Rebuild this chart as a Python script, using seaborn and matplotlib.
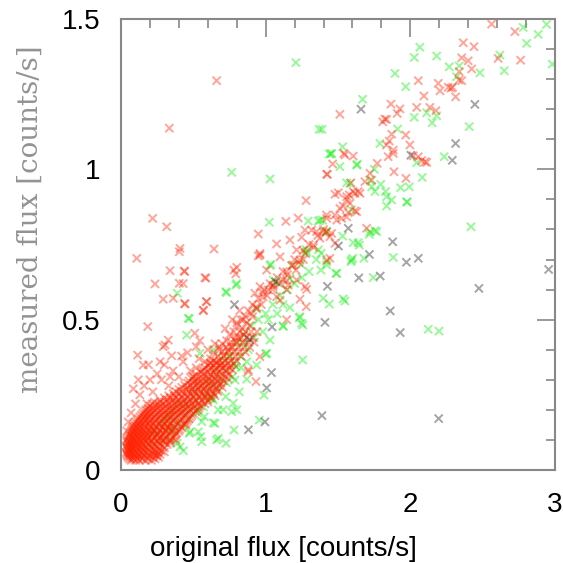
import matplotlib
matplotlib.use("Agg")
import matplotlib.pyplot as plt
import seaborn as sns
import pandas as pd
from matplotlib.ticker import MultipleLocator

sns.set_theme(style="white")
plt.rcParams['font.family'] = ['Liberation Sans', 'DejaVu Sans']

# ---------------- data ----------------
x_ticks = [0, 1, 2, 3]
x_tick_labels = ["0", "1", "2", "3"]
y_ticks = [0, 0.5, 1, 1.5]
y_tick_labels = ["0", "0.5", "1", "1.5"]

gray_pts = [
    (0.784, 0.550), (0.888, 0.434), (1.044, 0.476), (1.040, 0.324), (1.007, 0.273),
    (0.995, 0.160), (0.881, 0.134), (1.069, 0.626), (1.427, 0.611), (1.503, 0.745),
    (1.571, 0.804), (1.659, 1.200), (1.717, 0.717), (1.644, 0.639), (1.792, 0.645),
    (1.878, 0.759), (1.973, 0.691), (2.055, 0.704), (2.004, 1.047), (2.290, 1.030),
    (2.313, 1.086), (2.446, 1.216), (2.474, 0.604), (2.956, 0.667), (1.861, 0.529),
    (1.410, 0.491), (1.930, 0.457), (1.389, 0.181), (2.196, 0.171),
]

green_pts = [
    (1.209, 1.355), (1.370, 1.133), (0.765, 0.990), (1.030, 0.968), (1.025, 0.824),
    (1.294, 0.828), (1.364, 0.828), (1.394, 0.831), (1.440, 1.051),
    (2.066, 1.406), (2.027, 1.372), (2.182, 1.377), (1.894, 1.319), (1.968, 1.275),
    (1.670, 1.233), (2.269, 1.341), (2.338, 1.344), (2.320, 1.308), (2.481, 1.321),
    (2.619, 1.380), (2.649, 1.328), (2.780, 1.472), (2.804, 1.419), (2.884, 1.449),
    (2.942, 1.482), (2.981, 1.350),
    (2.027, 1.173), (2.151, 1.155), (2.113, 1.188), (2.182, 1.178), (2.407, 1.142),
    (1.912, 1.134), (1.790, 1.086), (1.532, 1.075), (1.451, 1.051), (1.513, 1.009),
    (1.633, 1.017), (1.389, 1.133), (2.044, 1.022), (2.234, 1.042), (2.082, 0.973),
    (1.751, 1.000), (1.733, 0.942), (1.795, 0.950), (1.829, 0.926), (1.871, 0.898),
    (1.933, 0.939), (1.992, 0.942), (1.836, 0.878), (1.979, 0.891), (1.560, 0.955),
    (1.594, 0.865), (1.721, 0.792), (1.755, 0.796), (2.419, 0.809), (1.417, 0.790),
    (1.716, 0.784), (1.605, 0.756), (1.647, 0.748), (1.532, 0.778), (1.601, 0.704),
    (1.590, 0.693), (1.679, 0.704), (1.422, 0.682), (1.491, 0.654), (1.744, 0.640),
    (1.882, 0.707), (1.398, 0.571), (1.440, 0.552), (1.548, 0.562), (2.124, 0.468),
    (2.198, 0.462), (1.256, 0.366), (1.256, 0.482),
    (0.389, 0.588), (0.472, 0.503), (0.724, 0.593), (0.795, 0.615), (1.035, 0.684),
    (1.244, 0.684), (1.283, 0.726), (1.384, 0.721), (1.232, 0.506), (1.249, 0.488),
    (1.168, 0.540), (1.122, 0.477), (0.938, 0.535), (1.000, 0.386), (0.938, 0.349),
    (0.795, 0.344), (0.869, 0.302), (0.818, 0.260), (0.776, 0.222), (0.765, 0.194),
    (0.781, 0.133), (0.726, 0.089), (0.661, 0.100), (0.551, 0.111), (0.431, 0.064),
    (0.534, 0.127), (0.638, 0.157), (0.576, 0.177), (0.672, 0.200), (0.615, 0.238),
    (0.724, 0.244), (0.988, 0.249), (0.956, 0.166), (0.389, 0.089), (0.472, 0.122),
    (0.339, 0.133),
    (0.788, 0.299), (0.638, 0.233), (0.707, 0.200), (0.800, 0.200), (0.523, 0.200),
    (0.558, 0.161), (0.650, 0.155), (0.672, 0.105), (0.558, 0.094), (0.408, 0.077),
    (0.339, 0.100), (0.477, 0.127),
    (1.030, 0.680), (0.800, 0.620), (0.730, 0.590), (0.465, 0.505), (0.454, 0.449),
    (1.237, 0.510), (1.120, 0.480), (1.030, 0.432), (1.007, 0.388), (0.845, 0.421),
    (0.753, 0.377), (0.638, 0.400), (0.546, 0.388),
    (1.375, 0.831), (1.421, 0.793), (1.767, 0.793), (1.836, 0.909), (1.755, 0.926),
    (1.974, 0.892), (1.583, 0.953), (1.721, 0.964), (1.456, 1.053), (1.629, 1.014),
    (1.278, 0.734), (1.421, 0.693), (1.594, 0.698), (1.640, 0.756), (1.364, 0.732),
    (1.486, 0.654), (1.382, 0.665), (1.168, 0.637), (1.087, 0.621), (1.053, 0.632),
    (1.536, 0.569),
    (0.25, 0.12), (0.28, 0.10), (0.30, 0.17), (0.32, 0.14), (0.35, 0.20), (0.38, 0.16),
    (0.40, 0.22), (0.42, 0.19), (0.45, 0.22), (0.48, 0.20), (0.50, 0.26), (0.52, 0.23),
    (0.55, 0.28), (0.58, 0.25), (0.60, 0.30), (0.62, 0.28), (0.65, 0.33), (0.68, 0.30),
    (0.70, 0.37), (0.72, 0.33), (0.75, 0.38), (0.78, 0.35), (0.80, 0.42), (0.82, 0.38),
    (0.85, 0.45), (0.88, 0.40), (0.90, 0.48), (0.92, 0.44), (0.95, 0.50), (0.98, 0.46),
    (1.00, 0.52), (1.02, 0.50), (1.05, 0.55), (1.08, 0.52), (1.10, 0.58), (1.12, 0.55),
    (1.15, 0.60), (1.20, 0.62), (1.25, 0.64), (1.30, 0.66), (1.35, 0.70), (1.18, 0.68),
    (1.28, 0.72), (0.20, 0.09), (0.22, 0.13), (0.27, 0.15), (0.33, 0.18), (0.37, 0.13),
    (0.43, 0.15), (0.47, 0.17), (0.53, 0.19), (0.57, 0.21), (0.63, 0.24), (0.67, 0.27),
    (0.73, 0.29), (0.77, 0.31), (0.83, 0.34), (0.87, 0.36),
]

# dense red core near the origin: (measured flux, [original flux values])
red_core_rows = [
    (0.032, [0.07, 0.10, 0.13, 0.17, 0.21]),
    (0.042, [0.05, 0.08, 0.11, 0.14, 0.18, 0.22, 0.26]),
    (0.052, [0.04, 0.06, 0.09, 0.12, 0.15, 0.19, 0.23, 0.27]),
    (0.063, [0.05, 0.07, 0.10, 0.13, 0.16, 0.20, 0.24, 0.28]),
    (0.074, [0.04, 0.06, 0.08, 0.11, 0.14, 0.17, 0.21, 0.25, 0.30]),
    (0.085, [0.05, 0.07, 0.10, 0.12, 0.15, 0.19, 0.23, 0.27, 0.32]),
    (0.096, [0.04, 0.06, 0.09, 0.11, 0.14, 0.17, 0.21, 0.25, 0.29, 0.34]),
    (0.107, [0.05, 0.08, 0.10, 0.13, 0.16, 0.19, 0.23, 0.27, 0.31, 0.36]),
    (0.118, [0.06, 0.09, 0.12, 0.15, 0.18, 0.21, 0.25, 0.29, 0.33, 0.38]),
    (0.129, [0.07, 0.10, 0.13, 0.16, 0.20, 0.23, 0.27, 0.31, 0.35, 0.40]),
    (0.140, [0.08, 0.11, 0.14, 0.17, 0.21, 0.25, 0.29, 0.33, 0.37, 0.42]),
    (0.152, [0.09, 0.12, 0.15, 0.19, 0.22, 0.26, 0.30, 0.34, 0.39, 0.44]),
    (0.164, [0.11, 0.14, 0.17, 0.20, 0.24, 0.28, 0.32, 0.36, 0.41, 0.46]),
    (0.176, [0.13, 0.16, 0.19, 0.23, 0.26, 0.30, 0.34, 0.38, 0.43, 0.48]),
    (0.188, [0.15, 0.18, 0.21, 0.25, 0.29, 0.33, 0.37, 0.41, 0.45, 0.50]),
    (0.200, [0.17, 0.20, 0.24, 0.28, 0.32, 0.36, 0.40, 0.44, 0.48, 0.53]),
    (0.213, [0.20, 0.24, 0.27, 0.31, 0.35, 0.39, 0.43, 0.47, 0.51, 0.55]),
    (0.226, [0.23, 0.27, 0.31, 0.35, 0.39, 0.43, 0.47, 0.51, 0.56, 0.60]),
    (0.240, [0.30, 0.34, 0.38, 0.42, 0.46, 0.50, 0.54, 0.58, 0.62]),
    (0.254, [0.36, 0.40, 0.44, 0.48, 0.52, 0.56, 0.60, 0.64]),
    (0.268, [0.40, 0.45, 0.49, 0.53, 0.57, 0.61, 0.66]),
    (0.282, [0.44, 0.48, 0.52, 0.56, 0.60, 0.64, 0.68]),
    (0.296, [0.47, 0.51, 0.55, 0.59, 0.63, 0.67, 0.71]),
    (0.310, [0.50, 0.55, 0.59, 0.63, 0.67, 0.72]),
    (0.325, [0.55, 0.60, 0.64, 0.68, 0.73]),
    (0.340, [0.58, 0.62, 0.66, 0.70, 0.75]),
    (0.355, [0.62, 0.66, 0.70, 0.74, 0.78]),
]

red_core_rows_b = [
    (0.037, [0.06, 0.085, 0.115, 0.15, 0.19, 0.235]),
    (0.047, [0.045, 0.065, 0.095, 0.125, 0.16, 0.20, 0.245]),
    (0.058, [0.035, 0.055, 0.08, 0.105, 0.14, 0.175, 0.215, 0.255]),
    (0.069, [0.045, 0.065, 0.09, 0.12, 0.15, 0.185, 0.225, 0.265]),
    (0.080, [0.035, 0.055, 0.075, 0.10, 0.13, 0.16, 0.20, 0.24, 0.285]),
    (0.091, [0.045, 0.065, 0.085, 0.115, 0.145, 0.18, 0.22, 0.26, 0.305]),
    (0.102, [0.04, 0.07, 0.095, 0.125, 0.155, 0.185, 0.22, 0.26, 0.30, 0.345]),
    (0.113, [0.055, 0.075, 0.11, 0.14, 0.17, 0.20, 0.24, 0.28, 0.32, 0.37]),
    (0.124, [0.065, 0.085, 0.115, 0.145, 0.175, 0.215, 0.255, 0.295, 0.34, 0.385]),
    (0.135, [0.075, 0.095, 0.125, 0.155, 0.19, 0.225, 0.265, 0.305, 0.355, 0.405]),
    (0.146, [0.085, 0.105, 0.135, 0.165, 0.20, 0.24, 0.28, 0.32, 0.36, 0.415]),
    (0.158, [0.10, 0.13, 0.16, 0.195, 0.23, 0.27, 0.31, 0.35, 0.40, 0.45]),
    (0.170, [0.12, 0.15, 0.18, 0.215, 0.25, 0.29, 0.33, 0.37, 0.42, 0.47]),
    (0.182, [0.14, 0.17, 0.20, 0.24, 0.275, 0.315, 0.355, 0.395, 0.44, 0.49]),
    (0.194, [0.16, 0.19, 0.225, 0.265, 0.305, 0.345, 0.385, 0.425, 0.465, 0.515]),
    (0.206, [0.185, 0.22, 0.255, 0.295, 0.335, 0.375, 0.415, 0.455, 0.50, 0.54]),
    (0.220, [0.215, 0.255, 0.29, 0.33, 0.37, 0.41, 0.45, 0.49, 0.535, 0.58]),
    (0.233, [0.27, 0.32, 0.36, 0.40, 0.44, 0.48, 0.52, 0.56, 0.60]),
    (0.247, [0.33, 0.37, 0.42, 0.46, 0.50, 0.54, 0.58, 0.62, 0.65]),
    (0.261, [0.38, 0.42, 0.47, 0.51, 0.55, 0.59, 0.63, 0.67]),
    (0.275, [0.42, 0.46, 0.50, 0.54, 0.58, 0.62, 0.66, 0.70]),
    (0.289, [0.46, 0.50, 0.53, 0.57, 0.61, 0.65, 0.69]),
    (0.303, [0.49, 0.53, 0.57, 0.61, 0.65, 0.70, 0.74]),
    (0.318, [0.52, 0.57, 0.62, 0.66, 0.70, 0.75]),
    (0.333, [0.57, 0.61, 0.65, 0.69, 0.73, 0.77]),
    (0.348, [0.60, 0.64, 0.68, 0.72, 0.76]),
    (0.363, [0.64, 0.68, 0.72, 0.76, 0.80]),
    (0.378, [0.67, 0.71, 0.75, 0.79, 0.83]),
    (0.393, [0.70, 0.74, 0.78, 0.82, 0.86]),
    (0.408, [0.73, 0.77, 0.81, 0.85, 0.89]),
    (0.425, [0.76, 0.80, 0.84, 0.88, 0.92]),
    (0.440, [0.79, 0.83, 0.87, 0.91]),
    (0.460, [0.82, 0.86, 0.90, 0.94]),
]

red_pts = [
    (0.661, 1.295), (0.334, 1.137), (0.219, 0.837), (0.316, 0.809), (0.949, 0.785),
    (1.140, 0.827), (1.225, 0.838), (1.279, 0.896), (1.422, 0.984), (0.109, 0.704),
    (0.408, 0.737), (0.403, 0.726), (0.643, 0.735), (0.339, 0.663), (0.437, 0.662),
    (0.800, 0.674), (0.793, 0.652), (0.587, 0.638), (0.949, 0.712), (1.076, 0.752),
    (0.961, 0.715), (0.235, 0.619), (0.403, 0.621), (0.292, 0.568), (0.361, 0.571),
    (0.442, 0.552), (0.592, 0.560), (0.569, 0.532), (0.185, 0.477), (0.304, 0.416),
    (0.327, 0.432), (0.115, 0.382), (0.154, 0.349), (0.419, 0.379), (1.237, 0.568),
    (1.283, 0.601), (1.156, 0.615), (1.214, 0.632), (0.880, 0.327), (0.933, 0.294),
    (2.562, 1.483), (2.723, 1.458), (2.366, 1.421), (2.440, 1.408), (2.355, 1.371),
    (2.400, 1.361), (2.607, 1.369), (2.762, 1.363), (2.424, 1.334), (2.338, 1.325),
    (2.355, 1.295), (2.055, 1.295), (2.193, 1.286), (2.205, 1.261), (2.262, 1.273),
    (2.292, 1.273), (2.313, 1.241), (2.094, 1.244), (1.866, 1.217), (1.928, 1.201),
    (2.044, 1.206), (2.135, 1.206), (2.177, 1.195), (1.909, 1.186), (1.513, 1.183),
    (1.809, 1.158), (1.836, 1.166), (1.871, 1.117), (1.968, 1.114), (1.854, 1.094),
    (1.836, 1.081), (1.882, 1.064), (1.997, 1.081), (1.847, 1.042), (2.055, 1.042),
    (2.101, 1.025), (1.541, 1.053), (1.605, 1.044), (1.463, 1.018), (1.426, 0.983),
    (1.887, 0.992), (1.970, 0.970), (1.771, 1.020), (1.721, 0.987), (1.686, 0.959),
    (1.733, 0.964), (1.589, 0.955), (1.640, 0.926), (1.617, 0.920), (1.578, 0.915),
    (1.479, 0.917), (1.560, 0.898), (1.536, 0.878), (1.617, 0.862), (1.571, 0.856),
    (1.479, 0.848), (1.525, 0.837), (1.422, 0.837), (1.398, 0.792), (1.456, 0.787),
    (1.698, 0.804),
    (1.548, 1.048), (1.502, 0.922), (1.560, 0.909), (1.605, 0.926), (1.652, 0.920),
    (1.583, 0.887), (1.513, 0.870), (1.629, 0.859), (1.560, 0.842), (1.491, 0.831),
    (1.421, 0.848), (1.272, 0.798), (1.318, 0.798), (1.352, 0.793), (1.444, 0.776),
    (1.249, 0.774), (1.375, 0.771), (1.329, 0.748), (1.214, 0.732), (1.168, 0.765),
    (1.099, 0.709), (1.237, 0.698), (1.272, 0.721), (1.444, 0.704), (1.882, 1.053),
    (2.336, 1.297), (2.281, 1.270), (1.824, 1.167), (2.078, 1.029), (2.113, 1.023),
    (2.020, 1.045), (1.422, 0.793), (1.479, 0.754), (1.422, 0.698),
    (1.007, 0.665), (1.145, 0.659), (1.191, 0.682), (1.122, 0.632), (1.053, 0.615),
    (1.018, 0.599), (0.983, 0.576), (0.926, 0.588), (1.272, 0.610), (0.961, 0.610),
    (1.145, 0.599), (1.076, 0.576),
    (0.845, 0.500), (0.800, 0.490), (0.680, 0.410), (0.615, 0.355), (0.980, 0.590),
    (1.050, 0.610), (1.145, 0.630), (1.210, 0.665), (1.260, 0.700), (0.960, 0.720),
    (0.780, 0.665), (0.580, 0.640), (0.440, 0.660), (0.430, 0.620), (0.440, 0.554),
    (0.590, 0.560), (0.570, 0.530), (1.100, 0.565), (0.940, 0.540), (0.910, 0.510),
    (0.510, 0.455), (0.545, 0.430), (0.960, 0.377), (0.880, 0.333), (1.145, 0.500),
    (1.280, 0.543),
    (0.62, 0.37), (0.64, 0.39), (0.66, 0.36), (0.68, 0.40), (0.70, 0.42), (0.71, 0.38),
    (0.73, 0.43), (0.75, 0.45), (0.76, 0.41), (0.78, 0.46), (0.80, 0.48), (0.81, 0.44),
    (0.83, 0.50), (0.84, 0.47), (0.86, 0.51), (0.87, 0.49), (0.88, 0.53), (0.90, 0.52),
    (0.91, 0.55), (0.93, 0.54), (0.95, 0.57), (0.97, 0.55), (0.99, 0.60), (1.01, 0.58),
    (1.03, 0.62), (1.05, 0.60), (1.08, 0.64), (1.10, 0.62), (1.12, 0.66), (1.15, 0.65),
    (1.18, 0.68), (1.20, 0.70), (1.23, 0.69), (1.26, 0.73), (1.30, 0.75), (1.33, 0.74),
    (1.36, 0.78), (1.40, 0.80), (0.65, 0.42), (0.69, 0.35), (0.74, 0.40), (0.79, 0.43),
    (0.85, 0.45), (0.89, 0.48), (0.82, 0.53), (0.77, 0.50), (0.72, 0.47), (0.60, 0.40),
    (0.58, 0.36), (0.56, 0.33), (0.54, 0.37), (0.52, 0.34), (0.50, 0.31), (0.48, 0.33),
    (0.04, 0.13), (0.05, 0.16), (0.07, 0.19), (0.10, 0.22), (0.13, 0.25), (0.085, 0.27),
    (0.16, 0.28), (0.20, 0.30), (0.22, 0.26), (0.25, 0.32), (0.28, 0.30), (0.18, 0.22),
    (0.30, 0.35), (0.33, 0.28), (0.36, 0.33), (0.40, 0.31), (0.27, 0.36), (0.12, 0.30),
    (0.19, 0.35), (0.35, 0.38), (0.43, 0.36), (0.46, 0.39), (0.52, 0.41), (0.292, 0.41),
    (0.339, 0.31), (0.25, 0.05), (0.30, 0.06), (0.34, 0.09), (0.38, 0.10), (0.45, 0.15),
]

# ---------------- build table ----------------
rows = []
for x, y in green_pts:
    rows.append(("green", x, y))
for y, xs in red_core_rows + red_core_rows_b:
    for x in xs:
        rows.append(("red", x, y))
for x, y in red_pts:
    rows.append(("red", x, y))
for x, y in gray_pts:
    rows.append(("gray", x, y))
df = pd.DataFrame(rows, columns=["group", "original", "measured"])

# ---------------- figure ----------------
fig = plt.figure(figsize=(5.63, 5.63), dpi=100)
ax = fig.add_axes([121 / 563, 1 - 470 / 563, 434 / 563, 451 / 563])

palette = {"green": "#00ee00", "red": "#ff2000", "gray": "#202020"}
sns.scatterplot(data=df, x="original", y="measured", hue="group", palette=palette,
                marker="x", s=34, linewidth=1.4, alpha=0.4, legend=False, ax=ax)

ax.set_xlim(0, 3)
ax.set_ylim(0, 1.5)
ax.set_xticks(x_ticks)
ax.set_xticklabels(x_tick_labels)
ax.set_yticks(y_ticks)
ax.set_yticklabels(y_tick_labels)
ax.xaxis.set_minor_locator(MultipleLocator(0.2))
ax.yaxis.set_minor_locator(MultipleLocator(0.1))
ax.set_xlabel("")
ax.set_ylabel("")

ax.tick_params(which="both", direction="in", top=True, right=True,
               color="#888888", width=1.2)
ax.tick_params(which="major", length=13, labelsize=20, labelcolor="black")
ax.tick_params(which="minor", length=6.5)
ax.tick_params(axis="x", which="major", pad=16)
ax.tick_params(axis="y", which="major", pad=15)
for sp in ax.spines.values():
    sp.set_color("#888888")
    sp.set_linewidth(1.5)

fig.text(283 / 563, 1 - 549 / 563, "original flux [counts/s]", ha="center",
         va="center", fontsize=20, color="black")
fig.text(30 / 563, 1 - 219 / 563, "measured flux [counts/s]", ha="center",
         va="center", rotation=90, fontsize=20, color="#939393",
         family=["DejaVu Serif"])

fig.savefig("out.png", dpi=100)
